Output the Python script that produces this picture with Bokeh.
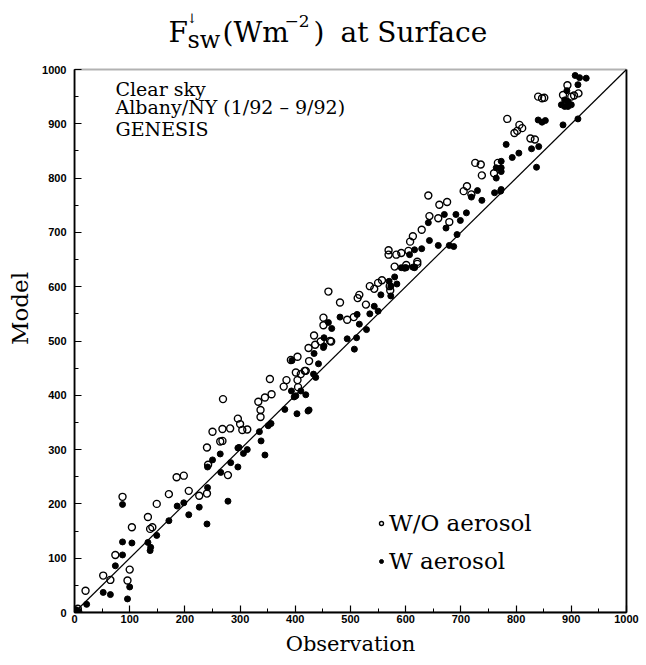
from bokeh.plotting import figure
from bokeh.models import (Range1d, SingleIntervalTicker, FixedTicker, Label, Legend, LegendItem,
                          LinearAxis, BoxAnnotation)
from bokeh.embed import file_html
from bokeh.resources import INLINE

# ---------------- data ----------------
wo_obs = [6, 20, 52, 65, 74, 87, 100, 96, 104, 133, 137, 141, 149, 171, 185, 198, 207, 226, 240, 240, 242, 278, 268,
          250, 269, 264, 268, 282, 296, 300, 304, 313, 333, 337, 337, 345, 357, 354, 379, 384, 392, 404, 401, 410, 419,
          404, 405, 425, 424, 436, 446, 465,
          460, 481, 451, 451, 434, 463, 494, 506, 513, 516, 528, 535, 543, 550, 557, 571, 572, 580, 601, 621, 417,
          641, 661, 675, 643, 659, 679, 629, 613, 608, 605, 592, 621, 705, 711, 719, 738, 726, 736, 760, 767,
          784, 806, 811, 802, 797, 826, 834, 840, 847, 851, 893, 885, 900, 913, 905,
          569, 569, 583]
wo_model = [7, 40, 68, 60, 106, 213, 79, 59, 157, 176, 154, 157, 200, 218, 249, 252, 224, 215, 219, 304, 272, 253, 316,
            333, 393, 315, 338, 339, 357, 347, 336, 337, 388, 373, 360, 396, 402, 430, 416, 428, 465, 471, 442, 439, 445,
            428, 415, 463, 487, 493, 499, 499,
            591, 571, 543, 529, 510, 500, 539, 544, 579, 585, 567, 601, 596, 607, 612, 601, 593, 637, 640, 642, 445,
            768, 751, 756, 730, 726, 719, 705, 693, 683, 666, 662, 646, 776, 785, 770, 805, 828, 825, 809, 828,
            909, 898, 892, 887, 883, 873, 871, 950, 947, 948, 971, 953, 950, 956, 952,
            667, 659, 659]

w_obs = [8, 22, 52, 65, 74, 87, 87, 87, 96, 100, 104, 133, 138, 137, 149, 171, 186, 198, 207, 226, 240, 250, 264, 265,
         278, 283, 296, 296,
         241, 241, 298, 306, 313, 335, 338, 345, 351, 356, 381, 403, 425, 393, 398, 410, 419, 394, 433, 437, 442, 434, 452,
         452, 451, 460, 466, 481, 494, 507, 511, 512, 516, 529, 535, 543, 550, 555, 570, 573, 580, 584, 598, 616, 423, 401,
         641, 673, 670, 691, 699, 710, 693, 643, 659, 679, 687, 629, 616, 607, 616, 599, 719, 730, 738, 761, 772, 764,
         773, 764,
         782, 793, 805, 828, 841, 837, 840, 847, 853, 885, 912, 882, 888, 894, 900, 888, 894, 892, 912, 907, 915, 927,
         773, 773, 773,
         592, 601, 613, 573, 3]
w_model = [2, 15, 37, 33, 86, 199, 130, 106, 25, 47, 128, 129, 120, 114, 142, 169, 196, 202, 180, 194, 163, 281, 292, 258,
           205, 276, 268, 303,
           230, 268, 304, 293, 300, 333, 316, 290, 344, 348, 374, 366, 373, 408, 397, 408, 401, 464, 439, 433, 458, 477, 491,
           506, 488, 534, 523, 544, 504, 485, 506, 549, 531, 521, 550, 564, 555, 585, 610, 583, 618, 605, 634, 636, 371, 399,
           718, 708, 733, 733, 722, 736, 696, 685, 676, 676, 674, 670, 668, 659, 635, 635, 765, 777, 759, 773, 776, 819,
           819, 800,
           862, 838, 846, 854, 858, 820, 907, 903, 906, 898, 909, 935, 932, 932, 935, 944, 941, 961, 972, 989, 985, 984,
           831, 812, 779,
           635, 635, 636, 601, 5]

one_to_one = [0, 1000]
axis_limits = (0, 1000)
series_labels = ["W/O aerosol", "W aerosol"]
note_lines = ["Clear sky", "Albany/NY (1/92 \u2013 9/92)", "GENESIS"]
x_label = "Observation"
y_label = "Model"

# ---------------- layout (page pixels) ----------------
W, H = 645, 664
BOX_L, BOX_R, BOX_T, BOX_B = 74, 626, 69, 612     # the drawn plot box
FT = 4                                            # frame extends up to hold the title
FL, FR, FB = BOX_L, W - BOX_R, H - BOX_B
frame_h = H - FT - FB
ymax = axis_limits[1] * frame_h / (BOX_B - BOX_T)

p = figure(width=W, height=H, output_backend="svg", toolbar_location=None,
           x_range=Range1d(*axis_limits), y_range=Range1d(0, ymax),
           min_border_left=FL, min_border_right=FR, min_border_top=FT, min_border_bottom=FB)
p.xgrid.visible = False
p.ygrid.visible = False
p.outline_line_color = None
p.background_fill_color = "white"
p.border_fill_color = "white"

for ax in (p.xaxis[0], p.yaxis[0]):
    ax.ticker = SingleIntervalTicker(interval=100, num_minor_ticks=2)
    ax.bounds = axis_limits
    ax.major_tick_in = 7
    ax.major_tick_out = 0
    ax.minor_tick_in = 4
    ax.minor_tick_out = 0
    ax.axis_line_width = 1.8
    ax.axis_line_color = "black"
    ax.major_tick_line_color = "black"
    ax.minor_tick_line_color = "black"
    ax.major_tick_line_width = 1.2
    ax.major_label_text_font = "Liberation Sans"
    ax.major_label_text_font_style = "bold"
    ax.major_label_text_font_size = "11px"
    ax.major_label_text_color = "black"
    ax.axis_label_text_font = "DejaVu Serif"
    ax.axis_label_text_font_style = "normal"
    ax.axis_label_text_color = "black"

p.xaxis[0].axis_label = x_label
p.xaxis[0].axis_label_text_font_size = "21px"
p.xaxis[0].axis_label_standoff = 6
p.xaxis[0].major_label_standoff = 2
p.yaxis[0].axis_label = y_label
p.yaxis[0].axis_label_text_font_size = "23px"
p.yaxis[0].axis_label_standoff = 6
p.yaxis[0].major_label_standoff = 8

# right border of the box, and the box outline
right_axis = LinearAxis(bounds=axis_limits, ticker=FixedTicker(ticks=[]), axis_line_width=1.8,
                        axis_line_color="black", major_tick_in=0, major_tick_out=0,
                        minor_tick_in=0, minor_tick_out=0, major_label_text_font_size="0px")
p.add_layout(right_axis, "right")
p.add_layout(BoxAnnotation(left=axis_limits[0], right=axis_limits[1], bottom=axis_limits[0],
                           top=axis_limits[1], fill_alpha=0, line_color="black", line_width=1.8))

# 1:1 line and the two series
p.line(one_to_one, one_to_one, line_color="black", line_width=1.2)
r_wo = p.scatter(wo_obs, wo_model, marker="circle", size=7, fill_color=None,
                 line_color="black", line_width=1.4)
r_w = p.scatter(w_obs, w_model, marker="circle", size=6, fill_color="black", line_color="black")

legend = Legend(items=[LegendItem(label=series_labels[0], renderers=[r_wo]),
                       LegendItem(label=series_labels[1], renderers=[r_w])],
                location=(302, 38), border_line_color=None, background_fill_alpha=0,
                padding=0, margin=0, spacing=12, glyph_width=10, glyph_height=26,
                label_height=26, label_standoff=3, label_text_font="DejaVu Serif",
                label_text_font_size="23px", label_text_baseline="middle",
                label_text_color="black")
p.add_layout(legend)

# page-pixel -> data helpers
box_w = BOX_R - BOX_L
box_h = BOX_B - BOX_T
LABEL_CORR = 7   # labels render this many px lower than their anchor
def dx(px):
    return (px - BOX_L) / box_w * axis_limits[1]
def dy(py):
    return (BOX_B - (py - LABEL_CORR)) / box_h * axis_limits[1]

def lab(txt, px, py, size, font="DejaVu Serif"):
    p.add_layout(Label(x=dx(px), y=dy(py), text=txt, text_font=font, text_font_size=size,
                       text_align="left", text_baseline="alphabetic", text_color="black"))

# title pieces: F (superscript down-arrow, subscript sw) (Wm^-2) at Surface
lab("F", 168, 39, "28px")
lab("\u2193", 186, 25, "13px")
lab("sw", 187, 46, "24px")
lab("(Wm", 222, 39, "28px")
lab("\u22122", 284, 27, "17px")
lab(")", 313, 39, "28px")
lab("at Surface", 340, 39, "28px")

# notes in upper-left
for txt, base in zip(note_lines, [95, 113, 135]):
    lab(txt, 115, base, "19px")

open("out.html", "w").write(file_html(p, INLINE))
